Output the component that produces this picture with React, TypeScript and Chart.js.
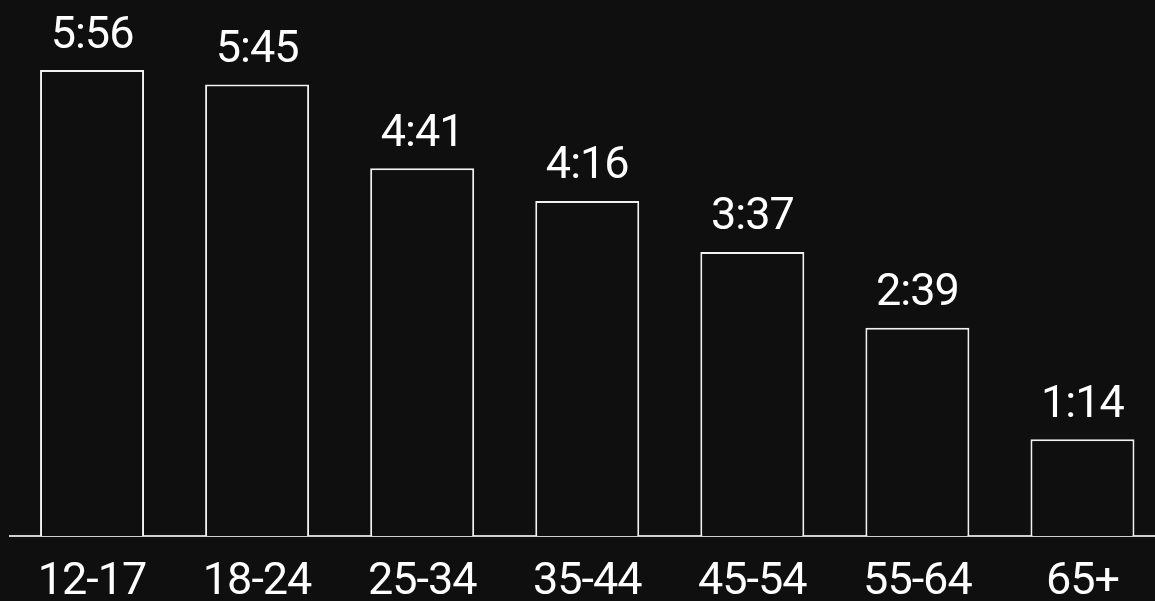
import React, { useEffect, useRef } from "react";
import { Chart, registerables } from "chart.js";

Chart.register(...registerables);

const categories = ["12-17", "18-24", "25-34", "35-44", "45-54", "55-64", "65+"];
// values in minutes (h:mm)
const minutes = [356, 345, 281, 256, 217, 159, 74];
const valueLabels = ["5:56", "5:45", "4:41", "4:16", "3:37", "2:39", "1:14"];

const BG = "#0f0f0f";
const FONT = "Roboto, 'Noto Sans', sans-serif";
const FONT_SIZE = 45;
const SPACING = "-1px";

export default function App() {
  const ref = useRef<HTMLCanvasElement | null>(null);

  useEffect(() => {
    document.body.style.margin = "0";
    document.body.style.overflow = "hidden";
    document.documentElement.style.overflow = "hidden";
    document.body.style.background = BG;
    const canvas = ref.current!;
    const bgPlugin = {
      id: "bg",
      beforeDraw(chart: any) {
        const c = chart.ctx;
        c.save();
        c.fillStyle = BG;
        c.fillRect(0, 0, chart.width, chart.height);
        c.restore();
        (c as any).letterSpacing = SPACING;
      },
    };
    const labelPlugin = {
      id: "valueLabels",
      afterDatasetsDraw(chart: any) {
        const c = chart.ctx;
        const meta = chart.getDatasetMeta(0);
        c.save();
        (c as any).letterSpacing = SPACING;
        c.fillStyle = "#ffffff";
        c.font = `400 ${FONT_SIZE}px ${FONT}`;
        c.textAlign = "center";
        c.textBaseline = "alphabetic";
        meta.data.forEach((bar: any, i: number) => {
          c.fillText(valueLabels[i], bar.x, bar.y - 22.5);
        });
        c.restore();
      },
    };
    const chart = new Chart(canvas, {
      type: "bar",
      data: {
        labels: categories,
        datasets: [
          {
            data: minutes,
            backgroundColor: BG,
            borderColor: "#f2f2f2",
            borderWidth: 2,
            borderSkipped: "bottom",
            categoryPercentage: 1,
            barPercentage: 0.63,
          },
        ],
      },
      options: {
        responsive: false,
        animation: false,
        devicePixelRatio: 1,
        layout: { padding: { top: 70, left: 9.5, right: 0, bottom: 0 } },
        plugins: { legend: { display: false }, tooltip: { enabled: false } },
        scales: {
          x: {
            grid: { display: false, drawTicks: false },
            border: { display: true, color: "#cfcfcf", width: 2 },
            ticks: {
              color: "#ffffff",
              font: { family: FONT, size: FONT_SIZE },
              padding: 20,
              maxRotation: 0,
              autoSkip: false,
            },
            afterFit(scale: any) {
              scale.height = 65;
            },
          },
          y: {
            display: false,
            min: 0,
            max: 356,
          },
        },
      },
      plugins: [bgPlugin, labelPlugin],
    });
    return () => chart.destroy();
  }, []);

  return (
    <div style={{ position: "absolute", left: 0, top: 0, width: 1165, height: 601 }}>
      <canvas ref={ref} width={1165} height={601} style={{ display: "block" }} />
    </div>
  );
}
